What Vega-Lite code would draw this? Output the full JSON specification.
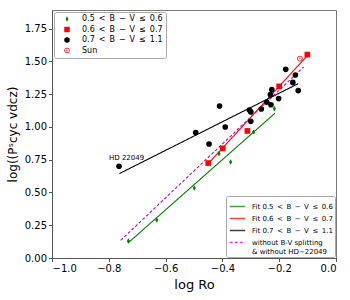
{
  "$schema": "https://vega.github.io/schema/vega-lite/v6.json",
  "width": 284,
  "height": 248,
  "autosize": {"type": "none"},
  "padding": {"left": 52, "top": 10, "right": 14, "bottom": 42},
  "config": {
    "font": "DejaVu Sans",
    "view": {"stroke": "#777777", "strokeWidth": 1},
    "axis": {
      "grid": false,
      "domainColor": "#555555",
      "tickColor": "#555555",
      "tickSize": 3.5,
      "labelFont": "DejaVu Sans",
      "labelFontSize": 10,
      "labelColor": "#000000",
      "titleFont": "DejaVu Sans",
      "titleFontWeight": "normal",
      "titleColor": "#000000"
    },
    "legend": {
      "labelFont": "DejaVu Sans",
      "labelFontSize": 7,
      "labelColor": "#000000",
      "labelLimit": 300,
      "strokeColor": "#aaaaaa",
      "fillColor": "#ffffff",
      "cornerRadius": 2,
      "title": null
    }
  },
  "datasets": {
    "points": [
      {"x": -0.764, "y": 0.70, "g": "0.7 < B − V ≤ 1.1"},
      {"x": -0.494, "y": 0.957, "g": "0.7 < B − V ≤ 1.1"},
      {"x": -0.447, "y": 0.87, "g": "0.7 < B − V ≤ 1.1"},
      {"x": -0.410, "y": 1.16, "g": "0.7 < B − V ≤ 1.1"},
      {"x": -0.390, "y": 1.0, "g": "0.7 < B − V ≤ 1.1"},
      {"x": -0.305, "y": 1.13, "g": "0.7 < B − V ≤ 1.1"},
      {"x": -0.300, "y": 1.115, "g": "0.7 < B − V ≤ 1.1"},
      {"x": -0.300, "y": 1.043, "g": "0.7 < B − V ≤ 1.1"},
      {"x": -0.263, "y": 1.137, "g": "0.7 < B − V ≤ 1.1"},
      {"x": -0.244, "y": 1.19, "g": "0.7 < B − V ≤ 1.1"},
      {"x": -0.229, "y": 1.17, "g": "0.7 < B − V ≤ 1.1"},
      {"x": -0.231, "y": 1.247, "g": "0.7 < B − V ≤ 1.1"},
      {"x": -0.226, "y": 1.285, "g": "0.7 < B − V ≤ 1.1"},
      {"x": -0.202, "y": 1.217, "g": "0.7 < B − V ≤ 1.1"},
      {"x": -0.177, "y": 1.44, "g": "0.7 < B − V ≤ 1.1"},
      {"x": -0.143, "y": 1.397, "g": "0.7 < B − V ≤ 1.1"},
      {"x": -0.152, "y": 1.34, "g": "0.7 < B − V ≤ 1.1"},
      {"x": -0.133, "y": 1.278, "g": "0.7 < B − V ≤ 1.1"},
      {"x": -0.450, "y": 0.725, "g": "0.6 < B − V ≤ 0.7"},
      {"x": -0.399, "y": 0.837, "g": "0.6 < B − V ≤ 0.7"},
      {"x": -0.312, "y": 0.97, "g": "0.6 < B − V ≤ 0.7"},
      {"x": -0.200, "y": 1.31, "g": "0.6 < B − V ≤ 0.7"},
      {"x": -0.101, "y": 1.553, "g": "0.6 < B − V ≤ 0.7"},
      {"x": -0.731, "y": 0.13, "g": "0.5 < B − V ≤ 0.6"},
      {"x": -0.631, "y": 0.29, "g": "0.5 < B − V ≤ 0.6"},
      {"x": -0.499, "y": 0.534, "g": "0.5 < B − V ≤ 0.6"},
      {"x": -0.412, "y": 0.797, "g": "0.5 < B − V ≤ 0.6"},
      {"x": -0.371, "y": 0.733, "g": "0.5 < B − V ≤ 0.6"},
      {"x": -0.290, "y": 0.962, "g": "0.5 < B − V ≤ 0.6"},
      {"x": -0.217, "y": 1.14, "g": "0.5 < B − V ≤ 0.6"},
      {"x": -0.127, "y": 1.522, "g": "Sun"}
    ],
    "fits": [
      {"x": -0.732, "y": 0.115, "f": "Fit 0.5 < B − V ≤ 0.6"},
      {"x": -0.215, "y": 1.105, "f": "Fit 0.5 < B − V ≤ 0.6"},
      {"x": -0.455, "y": 0.708, "f": "Fit 0.6 < B − V ≤ 0.7"},
      {"x": -0.100, "y": 1.547, "f": "Fit 0.6 < B − V ≤ 0.7"},
      {"x": -0.763, "y": 0.644, "f": "Fit 0.7 < B − V ≤ 1.1"},
      {"x": -0.133, "y": 1.331, "f": "Fit 0.7 < B − V ≤ 1.1"},
      {"x": -0.758, "y": 0.135, "f": "without B-V splitting & without HD~22049"},
      {"x": -0.114, "y": 1.458, "f": "without B-V splitting & without HD~22049"}
    ],
    "labels": [
      {"x": -0.764, "y": 0.70, "t": "HD 22049"}
    ]
  },
  "encoding": {
    "x": {
      "field": "x", "type": "quantitative",
      "scale": {"domain": [-1, 0], "nice": false, "zero": false},
      "axis": {"values": [-1, -0.8, -0.6, -0.4, -0.2, 0], "format": ".1f", "title": "log Ro", "titleFontSize": 13, "titlePadding": 5, "labelPadding": 2}
    },
    "y": {
      "field": "y", "type": "quantitative",
      "scale": {"domain": [0, 1.893], "nice": false, "zero": false},
      "axis": {"values": [0, 0.25, 0.5, 0.75, 1, 1.25, 1.5, 1.75], "format": ".2f", "title": "log((Pˢcyc vdcz)", "titleFontSize": 12, "titlePadding": 5, "labelPadding": 2}
    }
  },
  "layer": [
    {
      "data": {"name": "fits"},
      "mark": {"type": "line", "strokeWidth": 1.1},
      "encoding": {
        "color": {
          "field": "f", "type": "nominal",
          "scale": {"domain": ["Fit 0.5 < B − V ≤ 0.6", "Fit 0.6 < B − V ≤ 0.7", "Fit 0.7 < B − V ≤ 1.1", "without B-V splitting & without HD~22049"], "range": ["#008000", "#ff0000", "#000000", "#bf00bf"]},
          "legend": {
            "orient": "bottom-right",
            "offset": 1,
            "padding": 2,
            "symbolOffset": 1,
            "symbolType": "stroke",
            "symbolSize": 240,
            "symbolStrokeWidth": 1.3,
            "symbolOpacity": 0.75,
            "labelFontSize": 7,
            "labelFont": "DejaVu Sans",
            "labelOffset": 6,
            "rowPadding": -3.5,
            "labelExpr": "indexof(datum.label, 'without') == 0 ? ['without B-V splitting', '& without HD~22049'] : replace(replace(replace(datum.label, ' < ', '\u2002<\u2002'), ' ≤ ', '\u2002≤\u2002'), ' − ', '\u2002−\u2002')"
          }
        },
        "strokeDash": {
          "field": "f", "type": "nominal",
          "scale": {"domain": ["Fit 0.5 < B − V ≤ 0.6", "Fit 0.6 < B − V ≤ 0.7", "Fit 0.7 < B − V ≤ 1.1", "without B-V splitting & without HD~22049"], "range": [[1, 0], [1, 0], [1, 0], [3, 2]]}
        }
      }
    },
    {
      "data": {"name": "points"},
      "mark": {"type": "point", "filled": true, "opacity": 1, "size": 32},
      "encoding": {
        "color": {
          "field": "g", "type": "nominal",
          "scale": {"domain": ["0.5 < B − V ≤ 0.6", "0.6 < B − V ≤ 0.7", "0.7 < B − V ≤ 1.1", "Sun"], "range": ["#008000", "#ff0000", "#000000", "#ff0000"]},
          "legend": {
            "orient": "top-left",
            "offset": 2,
            "padding": 3,
            "symbolOffset": 6,
            "symbolSize": 30,
            "symbolStrokeWidth": 0,
            "labelFontSize": 8,
            "labelFont": "DejaVu Sans",
            "labelOffset": 11,
            "rowPadding": 2.5,
            "labelExpr": "replace(replace(replace(datum.label, ' < ', '\u2002<\u2002'), ' ≤ ', '\u2002≤\u2002'), ' − ', '\u2002−\u2002')"
          }
        },
        "shape": {
          "field": "g", "type": "nominal",
          "scale": {"domain": ["0.5 < B − V ≤ 0.6", "0.6 < B − V ≤ 0.7", "0.7 < B − V ≤ 1.1", "Sun"], "range": ["M0,-1L0.55,0L0,1L-0.55,0Z", "square", "circle", "M-1,0A1,1 0 1,0 1,0A1,1 0 1,0 -1,0Z M-0.72,0A0.72,0.72 0 1,1 0.72,0A0.72,0.72 0 1,1 -0.72,0Z M-0.25,0A0.25,0.25 0 1,0 0.25,0A0.25,0.25 0 1,0 -0.25,0Z"]}
        }
      }
    },
    {
      "data": {"name": "labels"},
      "mark": {"type": "text", "fontSize": 7, "font": "DejaVu Sans", "align": "left", "baseline": "bottom", "dx": -10, "dy": -5, "color": "#000000"},
      "encoding": {"text": {"field": "t"}}
    }
  ],
  "resolve": {"scale": {"color": "independent", "shape": "independent", "strokeDash": "independent"}}
}
